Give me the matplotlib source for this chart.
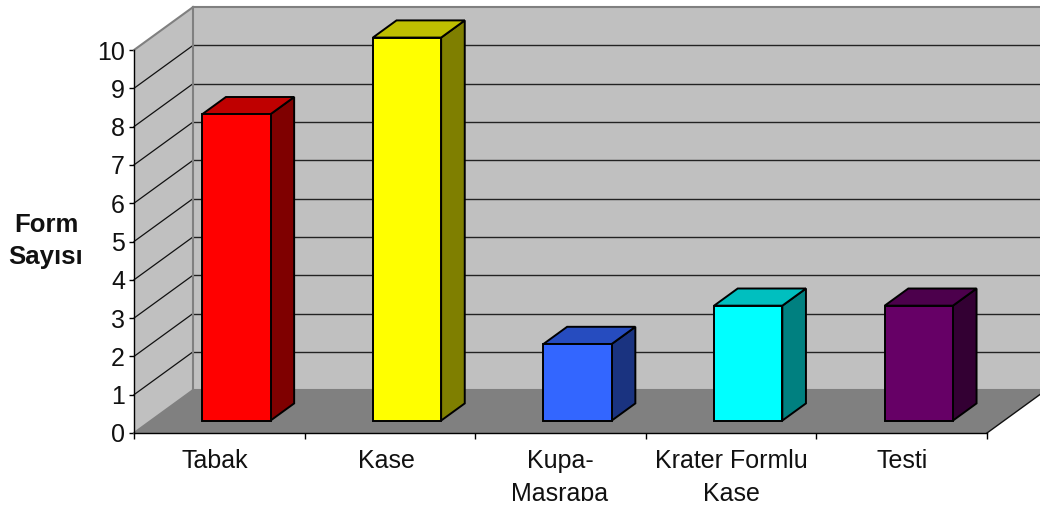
#!/usr/bin/env python3
"""Excel style 3D column chart, form counts"""
import matplotlib
matplotlib.use('Agg')
import matplotlib.pyplot as plt
from matplotlib.patches import Polygon
from matplotlib.transforms import Bbox

plt.rcParams['font.family'] = ['Liberation Sans', 'DejaVu Sans']

categories = ['Tabak', 'Kase', 'Kupa-\nMasrapa', 'Krater Formlu\nKase', 'Testi']
values = [8, 10, 2, 3, 3]
front_colors = ['#ff0000', '#ffff00', '#3366ff', '#00ffff', '#660066']
top_colors = ['#bf0000', '#bfbf00', '#264cbf', '#00bfbf', '#4c004c']
side_colors = ['#7f0000', '#7f7f00', '#1a3380', '#008080', '#330033']
y_ticks = list(range(0, 11))

W, H = 1040, 507
Y_MAX = 10
# depth of the box in data units
DX, DY = 0.346, 1.12
BAR_W = 0.40
D0, D1 = 0.29, 0.69

fig = plt.figure(figsize=(W / 100, H / 100), dpi=100, facecolor='white')
ax = fig.add_axes([134 / W, (H - 433) / H, 853 / W, 383 / H])
ax.set_xlim(0, len(categories))
ax.set_ylim(0, Y_MAX)
ax.patch.set_visible(False)


def pt(x, y, d=0.0):
    return (x + DX * d, y + DY * d)


def poly(points, fc, ec='none', lw=0.0, z=1):
    ax.add_patch(Polygon(points, closed=True, facecolor=fc, edgecolor=ec, linewidth=lw,
                         zorder=z, clip_on=False, joinstyle='miter'))


n = len(categories)
# walls and floor
poly([pt(0, 0), pt(0, Y_MAX), pt(0, Y_MAX, 1), pt(0, 0, 1)], '#c0c0c0', z=1)
poly([pt(0, 0, 1), pt(0, Y_MAX, 1), pt(n, Y_MAX, 1), pt(n, 0, 1)], '#c0c0c0', z=1)
poly([pt(0, 0), pt(0, 0, 1), pt(n, 0, 1), pt(n, 0)], '#808080', z=1.5)

# gridlines, side wall then back wall
for v in y_ticks[1:-1]:
    xs, ys = zip(pt(0, v), pt(0, v, 1))
    ax.plot(xs, ys, color='#111111', lw=0.9, zorder=2, clip_on=False)
    xs, ys = zip(pt(0, v, 1), pt(n, v, 1))
    ax.plot(xs, ys, color='#222222', lw=1.0, zorder=2, clip_on=False)

# wall outlines
for a, b in [(pt(0, Y_MAX), pt(0, Y_MAX, 1)), (pt(0, Y_MAX, 1), pt(n, Y_MAX, 1)),
             (pt(0, 0, 1), pt(0, Y_MAX, 1)), (pt(0, 0), pt(0, 0, 1)),
             (pt(0, 0, 1), pt(n, 0, 1))]:
    xs, ys = zip(a, b)
    ax.plot(xs, ys, color='#808080', lw=1.5, zorder=2.5, clip_on=False)
xs, ys = zip(pt(n, 0), pt(n, 0, 1))
ax.plot(xs, ys, color='#111111', lw=1.0, zorder=2.5, clip_on=False)

# columns
for i, v in enumerate(values):
    x0 = i + 0.5 - BAR_W / 2
    x1 = i + 0.5 + BAR_W / 2
    poly([pt(x1, 0, D0), pt(x1, v, D0), pt(x1, v, D1), pt(x1, 0, D1)],
         side_colors[i], 'black', 1.4, 3)
    poly([pt(x0, v, D0), pt(x0, v, D1), pt(x1, v, D1), pt(x1, v, D0)],
         top_colors[i], 'black', 1.4, 3)
    poly([pt(x0, 0, D0), pt(x0, v, D0), pt(x1, v, D0), pt(x1, 0, D0)],
         front_colors[i], 'black', 1.4, 3.2)

for s in ['top', 'right']:
    ax.spines[s].set_visible(False)
for s in ['left', 'bottom']:
    ax.spines[s].set_linewidth(1.0)
    ax.spines[s].set_zorder(4)

ax.set_yticks(y_ticks)
ax.set_xticks(range(n + 1))
ax.set_xticklabels([])
ax.tick_params(axis='y', direction='out', length=3.5, width=1.0, labelsize=18, pad=3)
ax.tick_params(axis='x', direction='out', length=4.5, width=1.0)
for lab in ax.get_yticklabels():
    lab.set_color('#111111')

# the second label line runs off the chart area in the original
label_clip = Bbox([[0, H - 501], [W, H]])
for i, c in enumerate(categories):
    cx = [215, 386, 560, 731, 902][i]
    t = fig.text(cx / W, (H - 449) / H, c, ha='center', va='top', fontsize=18,
                 color='#111111', linespacing=1.45)
    t.set_clip_box(label_clip)
    t.set_clip_on(True)

fig.text(46 / W, (H - 241) / H, 'Form\nSayısı', ha='center', va='center', fontsize=18.5,
         fontweight='bold', color='#111111', linespacing=1.41)

fig.savefig('out.png', dpi=100)
